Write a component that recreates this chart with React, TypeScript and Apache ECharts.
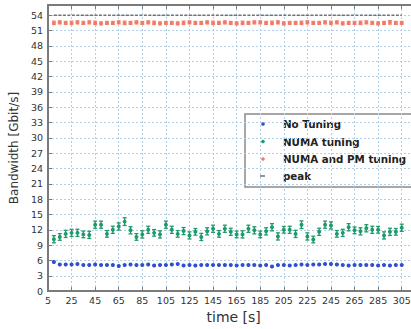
import React, { useEffect, useRef } from "react";
import * as echarts from "echarts";

const times = [10, 15, 20, 25, 30, 35, 40, 45, 50, 55, 60, 65, 70, 75, 80, 85, 90, 95, 100, 105, 110, 115, 120, 125, 130, 135, 140, 145, 150, 155, 160, 165, 170, 175, 180, 185, 190, 195, 200, 205, 210, 215, 220, 225, 230, 235, 240, 245, 250, 255, 260, 265, 270, 275, 280, 285, 290, 295, 300, 305];

const noTuning = [5.7, 5.2, 5.2, 5.2, 5.3, 5.1, 5.1, 5.2, 5.1, 5.1, 5.1, 4.9, 5.1, 5.2, 5.1, 5.1, 5.2, 5.0, 5.1, 5.1, 5.2, 5.3, 5.0, 5.1, 5.0, 5.1, 5.1, 5.1, 5.1, 5.1, 5.1, 5.0, 5.1, 5.1, 5.1, 5.0, 5.1, 4.8, 5.1, 5.1, 5.0, 5.1, 5.2, 5.1, 5.2, 5.2, 5.3, 5.3, 5.2, 5.1, 5.0, 5.1, 5.1, 5.1, 5.1, 5.0, 5.1, 5.0, 5.1, 5.1];
const noTuningErr = [0.15, 0.1, 0.1, 0.1, 0.1, 0.1, 0.1, 0.1, 0.1, 0.1, 0.1, 0.15, 0.1, 0.1, 0.1, 0.1, 0.1, 0.1, 0.1, 0.1, 0.1, 0.1, 0.1, 0.1, 0.1, 0.1, 0.1, 0.1, 0.1, 0.1, 0.1, 0.1, 0.1, 0.1, 0.1, 0.1, 0.1, 0.15, 0.1, 0.1, 0.1, 0.1, 0.1, 0.1, 0.1, 0.1, 0.1, 0.1, 0.1, 0.1, 0.1, 0.1, 0.1, 0.1, 0.1, 0.1, 0.1, 0.1, 0.1, 0.1];

const numaTuning = [10.15, 10.6, 11.2, 11.4, 11.4, 11.1, 11.0, 13.0, 13.0, 11.2, 12.0, 12.65, 13.6, 11.9, 10.6, 11.1, 12.0, 11.4, 11.1, 13.0, 12.0, 11.2, 11.75, 10.9, 11.6, 10.6, 11.7, 12.2, 11.2, 12.2, 11.6, 11.1, 11.1, 12.2, 11.9, 11.1, 11.7, 12.5, 10.7, 12.0, 12.0, 11.2, 13.0, 10.7, 10.1, 11.6, 13.0, 12.85, 11.2, 11.4, 12.5, 11.9, 11.7, 12.3, 12.0, 12.0, 10.9, 11.6, 11.6, 12.4];
const numaErr = [0.7, 0.65, 0.7, 0.7, 0.7, 0.65, 0.7, 0.7, 0.7, 0.65, 0.7, 0.7, 0.75, 0.7, 0.65, 0.7, 0.7, 0.65, 0.7, 0.7, 0.7, 0.65, 0.7, 0.7, 0.65, 0.7, 0.7, 0.7, 0.65, 0.7, 0.7, 0.65, 0.7, 0.7, 0.7, 0.65, 0.7, 0.7, 0.7, 0.65, 0.7, 0.7, 0.75, 0.7, 0.65, 0.7, 0.7, 0.7, 0.65, 0.7, 0.7, 0.65, 0.7, 0.7, 0.7, 0.65, 0.7, 0.7, 0.65, 0.7];

const numaPm = [52.5, 52.6, 52.5, 52.5, 52.6, 52.5, 52.6, 52.5, 52.4, 52.5, 52.5, 52.6, 52.5, 52.5, 52.6, 52.5, 52.6, 52.5, 52.4, 52.5, 52.5, 52.4, 52.5, 52.6, 52.5, 52.5, 52.6, 52.5, 52.5, 52.6, 52.5, 52.4, 52.5, 52.5, 52.6, 52.6, 52.5, 52.5, 52.6, 52.4, 52.5, 52.5, 52.5, 52.6, 52.5, 52.5, 52.6, 52.5, 52.6, 52.4, 52.5, 52.5, 52.5, 52.6, 52.5, 52.4, 52.5, 52.6, 52.5, 52.5];
const numaPmErr = [0.35, 0.3, 0.3, 0.35, 0.3, 0.3, 0.3, 0.35, 0.3, 0.3, 0.3, 0.3, 0.35, 0.3, 0.3, 0.3, 0.3, 0.35, 0.3, 0.3, 0.3, 0.3, 0.35, 0.3, 0.3, 0.3, 0.3, 0.35, 0.3, 0.3, 0.3, 0.3, 0.35, 0.3, 0.3, 0.3, 0.3, 0.35, 0.3, 0.3, 0.3, 0.3, 0.35, 0.3, 0.3, 0.3, 0.3, 0.35, 0.3, 0.3, 0.3, 0.3, 0.35, 0.3, 0.3, 0.3, 0.3, 0.35, 0.3, 0.3];

const peak = [54.0, 54.0, 54.0, 54.0, 54.0, 54.0, 54.0, 54.0, 54.0, 54.0, 54.0, 54.0, 54.0, 54.0, 54.0, 54.0, 54.0, 54.0, 54.0, 54.0, 54.0, 54.0, 54.0, 54.0, 54.0, 54.0, 54.0, 54.0, 54.0, 54.0, 54.0, 54.0, 54.0, 54.0, 54.0, 54.0, 54.0, 54.0, 54.0, 54.0, 54.0, 54.0, 54.0, 54.0, 54.0, 54.0, 54.0, 54.0, 54.0, 54.0, 54.0, 54.0, 54.0, 54.0, 54.0, 54.0, 54.0, 54.0, 54.0, 54.0];

const seriesNames = ["No Tuning", "NUMA tuning", "NUMA and PM tuning", "peak"];
const BLUE = "#2f4fd0";
const GREEN = "#1f9a6a";
const RED = "#f27a68";
const PEAK = "#6a7280";
const FONT = "DejaVu Sans";

function pts(vals: number[]) {
  return times.map((t, i) => [t, vals[i]]);
}
function errs(vals: number[], e: number[]) {
  return times.map((t, i) => [t, vals[i] - e[i], vals[i] + e[i]]);
}

function errorSeries(vals: number[], e: number[], color: string, cap: number, width: number) {
  return {
    type: "custom",
    silent: true,
    z: 2,
    data: errs(vals, e),
    renderItem: (params: any, api: any) => {
      const x = api.value(0);
      const top = api.coord([x, api.value(2)]);
      const bot = api.coord([x, api.value(1)]);
      const st = { stroke: color, lineWidth: width };
      return {
        type: "group",
        children: [
          { type: "line", shape: { x1: top[0], y1: top[1], x2: bot[0], y2: bot[1] }, style: st },
          { type: "line", shape: { x1: top[0] - cap, y1: top[1], x2: top[0] + cap, y2: top[1] }, style: st },
          { type: "line", shape: { x1: bot[0] - cap, y1: bot[1], x2: bot[0] + cap, y2: bot[1] }, style: st },
        ],
      };
    },
  };
}

export default function App() {
  const ref = useRef<HTMLDivElement>(null);
  useEffect(() => {
    if (!ref.current) return;
    const chart = echarts.init(ref.current, null, { renderer: "svg" });
    const gridLine = { show: true, lineStyle: { color: "#b3cfe6", type: [2, 2], width: 1 } };
    const axisLineStyle = { color: "#7a7a7a", width: 2 };
    const legendX = 245;
    const legendY = 114;
    const rows = [124, 141.5, 159, 176];
    chart.setOption({
      animation: false,
      backgroundColor: "#ffffff",
      textStyle: { fontFamily: FONT },
      grid: { left: 44, top: 5, bottom: 33, right: 10.6 },
      xAxis: [
        {
          type: "value",
          min: 5,
          max: 320,
          interval: 20,
          name: "time [s]",
          nameLocation: "middle",
          nameGap: 13,
          nameTextStyle: { fontSize: 14, color: "#333", fontFamily: FONT },
          axisLine: { show: true, lineStyle: axisLineStyle },
          axisTick: { show: true, inside: true, length: 4, lineStyle: { color: "#7a7a7a" } },
          axisLabel: { fontSize: 9.5, color: "#333", margin: 4, showMaxLabel: false, fontFamily: FONT },
          splitLine: gridLine,
        },
        {
          type: "value",
          position: "top",
          min: 5,
          max: 320,
          interval: 20,
          axisLine: { show: true, lineStyle: axisLineStyle },
          axisTick: { show: true, inside: true, length: 4, lineStyle: { color: "#7a7a7a" } },
          axisLabel: { show: false },
          splitLine: { show: false },
        },
      ],
      yAxis: {
        type: "value",
        min: 0,
        max: 56,
        interval: 3,
        name: "Bandwidth [Gbit/s]",
        nameLocation: "middle",
        nameGap: 25,
        nameTextStyle: { fontSize: 12, color: "#333", fontFamily: FONT },
        axisLine: { show: true, lineStyle: axisLineStyle },
        axisTick: { show: true, inside: true, length: 4, lineStyle: { color: "#7a7a7a" } },
        axisLabel: { fontSize: 9.5, color: "#333", margin: 5, showMaxLabel: false, fontFamily: FONT },
        splitLine: gridLine,
      },
      series: [
        errorSeries(noTuning, noTuningErr, BLUE, 1.5, 1),
        errorSeries(numaTuning, numaErr, GREEN, 2, 1.3),
        errorSeries(numaPm, numaPmErr, RED, 2, 1),
        {
          name: seriesNames[3],
          type: "line",
          data: pts(peak),
          symbol: "none",
          lineStyle: { color: PEAK, width: 1.5, type: [3, 1.5] },
          z: 3,
        },
        {
          name: seriesNames[0],
          type: "scatter",
          data: pts(noTuning),
          symbol: "circle",
          symbolSize: 4,
          itemStyle: { color: BLUE, opacity: 1 },
          z: 4,
        },
        {
          name: seriesNames[1],
          type: "scatter",
          data: pts(numaTuning),
          symbol: "circle",
          symbolSize: 4,
          itemStyle: { color: GREEN, opacity: 1 },
          z: 4,
        },
        {
          name: seriesNames[2],
          type: "scatter",
          data: pts(numaPm),
          symbol: "circle",
          symbolSize: 4,
          itemStyle: { color: RED, opacity: 1 },
          z: 4,
        },
      ],
      graphic: [
        {
          type: "group",
          z: 100,
          children: [
            {
              type: "rect",
              shape: { x: legendX, y: legendY, width: 190, height: 73 },
              style: { fill: "#ffffff", stroke: "#8a8a8a", lineWidth: 1.5 },
            },
            { type: "circle", shape: { cx: 263, cy: rows[0], r: 1.8 }, style: { fill: BLUE } },
            { type: "circle", shape: { cx: 263, cy: rows[1], r: 1.8 }, style: { fill: GREEN } },
            { type: "circle", shape: { cx: 263, cy: rows[2], r: 1.8 }, style: { fill: RED } },
            { type: "line", shape: { x1: 260, y1: rows[3], x2: 265, y2: rows[3] }, style: { stroke: PEAK, lineWidth: 1.5 } },
            ...seriesNames.map((n, i) => ({
              type: "text",
              x: 283,
              y: rows[i],
              style: {
                text: n,
                fill: "#222",
                font: `bold 10.3px "${FONT}"`,
                verticalAlign: "middle",
                align: "left",
              },
            })),
          ],
        },
      ],
    });
    return () => chart.dispose();
  }, []);
  return (
    <div style={{ position: "fixed", left: 0, top: 0, width: 411, height: 329, overflow: "hidden" }}>
      <div ref={ref} style={{ position: "absolute", left: 0, top: 0, width: 430, height: 329 }} />
    </div>
  );
}
